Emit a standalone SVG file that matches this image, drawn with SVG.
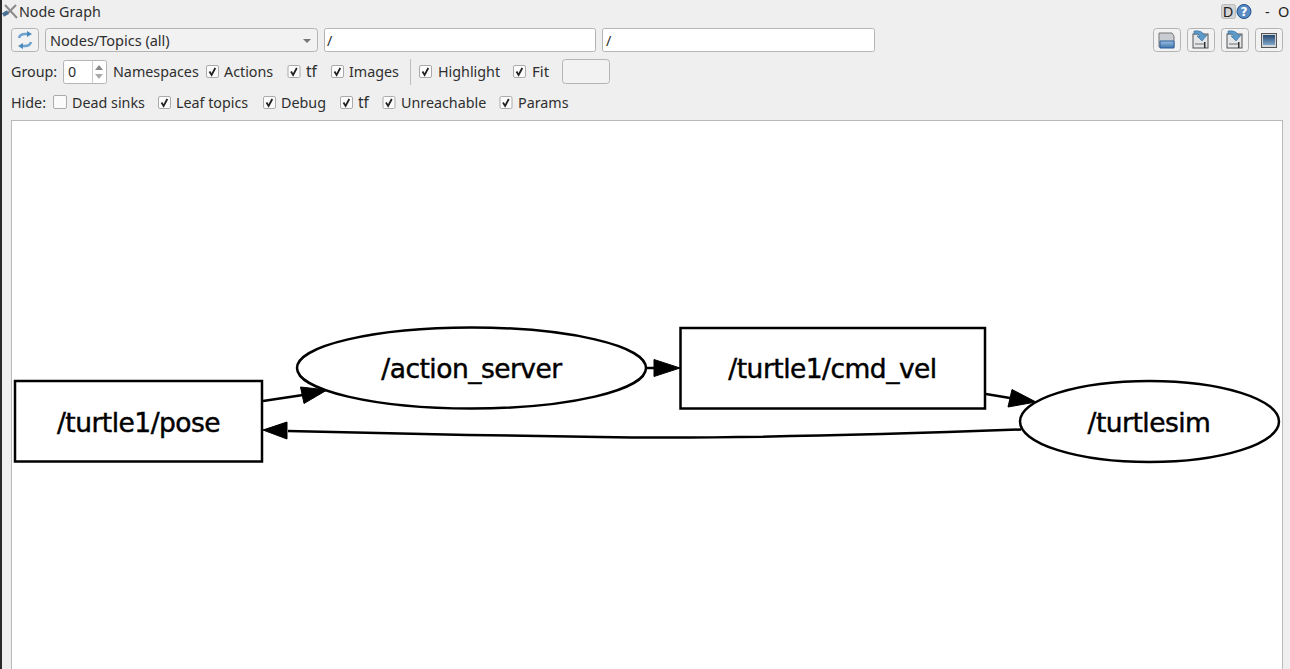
<svg xmlns="http://www.w3.org/2000/svg" width="1290" height="669" viewBox="0 0 1290 669">
<style>
.ui{font-family:"Noto Sans","Open Sans",sans-serif;font-size:14.3px;fill:#2e2e2e}
.g{font-family:"DejaVu Sans",sans-serif;font-size:26.5px;letter-spacing:-.52px;fill:#000;text-anchor:middle;stroke:#000;stroke-width:.45px}
.n{fill:#fff;stroke:#000;stroke-width:2.5}
.e{fill:none;stroke:#000;stroke-width:2.5}
.a{fill:#000;stroke:#000;stroke-width:1}
.cb{fill:#fbfbfb;stroke:#ababab;stroke-width:1}
.ck{fill:none;stroke:#222;stroke-width:1.8}
.btn{fill:#f2f2f2;stroke:#b4b4b4;stroke-width:1}
.fld{fill:#fff;stroke:#b4b4b4;stroke-width:1}
</style>
<defs>
<linearGradient id="bl" x1="0" y1="0" x2="0" y2="1"><stop offset="0" stop-color="#9cc0e4"/><stop offset="1" stop-color="#3f74ad"/></linearGradient>
<linearGradient id="pic" x1="0" y1="0" x2="0" y2="1"><stop offset="0" stop-color="#26496f"/><stop offset="1" stop-color="#7fa6cc"/></linearGradient>
<g id="c"><rect class="cb" x="0.500" y="0.500" width="12" height="12" rx="1.500"/><path class="ck" d="M3.500 6.500 L5.600 10 L9.300 3"/></g>
<g id="sv"><rect x="-8" y="-6" width="15" height="14" fill="#e4e6e8" stroke="#555" stroke-width="1"/><rect x="-6" y="3" width="9" height="2" fill="#aaa"/><rect x="3" y="2" width="1.500" height="6" fill="#333"/><path d="M-7 -9 Q1 -10 3 -5 L6 -5 L1 1 L-4 -4 L-1 -4 Q-2 -7 -7 -6Z" fill="#5b9ac9" stroke="#2d6a98" stroke-width=".6"/></g>
</defs>
<rect width="1290" height="669" fill="#efefef"/>
<rect x="0" y="0" width="2" height="669" fill="#2a2a2a"/>
<rect x="11.500" y="120.500" width="1271" height="560" fill="#fff" stroke="#b9b9b9"/>

<g id="toolbar">
<path d="M5 5 L17 18 M16 5 L7 14" stroke="#8a8a8a" stroke-width="2" fill="none"/><path d="M3 15 L8 12" stroke="#4a6f96" stroke-width="4"/>
<text class="ui" x="19" y="17">Node Graph</text>
<rect x="1221.500" y="4.500" width="14" height="14" rx="2" fill="#d4d4d4" stroke="#bbb"/>
<text x="1228" y="17" font-family="'Noto Sans',sans-serif" font-size="14.500" fill="#222" text-anchor="middle">D</text>
<circle cx="1244" cy="11.500" r="7" fill="#5a8cc4" stroke="#1f4f8c"/>
<text x="1244" y="16" font-family="'DejaVu Sans',sans-serif" font-weight="bold" font-size="12" fill="#fff" text-anchor="middle">?</text>
<text x="1265" y="17" font-family="'Noto Sans',sans-serif" font-size="14.500" fill="#222">-</text>
<text x="1278" y="17" font-family="'Noto Sans',sans-serif" font-size="14.500" fill="#222">O</text>

<rect class="btn" x="11.500" y="28.500" width="27" height="23" rx="3"/>
<path d="M19 38 Q20 34 25 34 L29 34 M31 42 Q30 46 25 46 L21 46" fill="none" stroke="#6ea3cf" stroke-width="2.500"/>
<path d="M27 31 L32 34 L27 37Z M23 43 L18 46 L23 49Z" fill="#4b8abc"/>
<rect class="btn" x="45.500" y="28.500" width="272" height="23" rx="3"/>
<text class="ui" x="50" y="46" style="font-size:14.500px">Nodes/Topics (all)</text>
<path d="M303 39 L311 39 L307 43Z" fill="#777"/>
<rect class="fld" x="324.500" y="28.500" width="271" height="23" rx="2"/>
<text class="ui" x="327" y="46">/</text>
<rect class="fld" x="602.500" y="28.500" width="272" height="23" rx="2"/>
<text class="ui" x="606" y="46">/</text>

<rect class="btn" x="1153.500" y="28.500" width="27" height="23" rx="3"/>
<path d="M1159 33 L1172 33 L1174 36 L1174 47 L1159 47Z" fill="#c9ccd0" stroke="#777"/>
<path d="M1160 41 L1174 41 L1174 48 L1160 48Z" fill="url(#bl)" stroke="#2d5f9c"/>
<rect class="btn" x="1187.500" y="28.500" width="27" height="23" rx="3"/>
<use href="#sv" x="1201" y="40"/>
<rect class="btn" x="1221.500" y="28.500" width="27" height="23" rx="3"/>
<use href="#sv" x="1235" y="40"/>
<rect class="btn" x="1255.500" y="28.500" width="27" height="23" rx="3"/>
<rect x="1261.500" y="33.500" width="15" height="14" fill="#d5d7d9" stroke="#555"/>
<rect x="1263" y="35" width="12" height="10" fill="url(#pic)"/>

<text class="ui" x="11" y="77">Group:</text>
<rect class="fld" x="63.500" y="60.500" width="43" height="23" rx="2"/>
<text class="ui" x="68" y="77">0</text>
<path d="M92.500 61 L92.500 83" stroke="#ccc"/>
<path d="M95 70 L99 65 L103 70Z" fill="#888"/><path d="M95 74 L99 79 L103 74Z" fill="#aaa"/>
<text class="ui" x="113" y="77">Namespaces</text>
<use href="#c" x="206" y="65"/><text class="ui" x="224" y="77">Actions</text>
<use href="#c" x="287.500" y="65"/><text class="ui" x="306" y="77" style="font-size:15.500px">tf</text>
<use href="#c" x="331" y="65"/><text class="ui" x="349" y="77">Images</text>
<rect x="410" y="59" width="1" height="26" fill="#bdbdbd"/>
<use href="#c" x="419" y="65"/><text class="ui" x="438" y="77">Highlight</text>
<use href="#c" x="513" y="65"/><text class="ui" x="532" y="77" style="font-size:15px">Fit</text>
<rect class="btn" x="562.500" y="59.500" width="47" height="24" rx="3"/>

<text class="ui" x="11" y="108">Hide:</text>
<rect class="cb" x="53.500" y="95.500" width="13" height="13" rx="1.500"/><text class="ui" x="72" y="108">Dead sinks</text>
<use href="#c" x="158" y="96"/><text class="ui" x="176" y="108">Leaf topics</text>
<use href="#c" x="263" y="96"/><text class="ui" x="281" y="108">Debug</text>
<use href="#c" x="340" y="96"/><text class="ui" x="358" y="108" style="font-size:15.500px">tf</text>
<use href="#c" x="382.500" y="96"/><text class="ui" x="401" y="108">Unreachable</text>
<use href="#c" x="499.500" y="96"/><text class="ui" x="518" y="108">Params</text>
</g>

<g id="connectors">
<path class="e" d="M263 401 L303 395"/>
<path class="a" d="M300.500 387 L327 390 L304 403.500Z"/>
<path class="e" d="M647 368 L655 368"/>
<path class="a" d="M654 359.500 L680 368 L654 376.500Z"/>
<path class="e" d="M986 394 L1010 398"/>
<path class="a" d="M1012 389.500 L1036 402 L1008 407Z"/>
<path class="e" d="M1021 429.500 C900 434 720 439 600 437 C500 436 380 433 288 431"/>
<path class="a" d="M287 422 L263 430 L287 439Z"/>
</g>

<g id="turtle1_pose"><rect class="n" x="15" y="381" width="247" height="80.500"/><text class="g" x="138.500" y="431.500">/turtle1/pose</text></g>
<g id="action_server"><ellipse class="n" cx="471.500" cy="368" rx="174.500" ry="40.500"/><text class="g" x="471.500" y="378">/action_server</text></g>
<g id="turtle1_cmd_vel"><rect class="n" x="680.500" y="328" width="304.500" height="80.500"/><text class="g" x="832.500" y="378">/turtle1/cmd_vel</text></g>
<g id="turtlesim"><ellipse class="n" cx="1149.500" cy="421.500" rx="129.500" ry="40.500"/><text class="g" x="1149" y="431.500">/turtlesim</text></g>
</svg>
